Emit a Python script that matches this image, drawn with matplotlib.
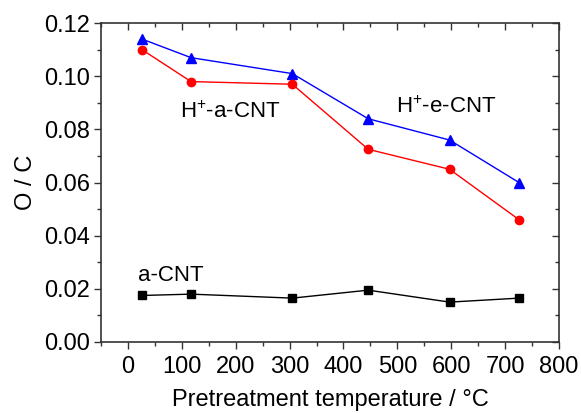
import matplotlib
matplotlib.use("Agg")
import matplotlib.pyplot as plt
import matplotlib.lines as mlines
from matplotlib.ticker import MultipleLocator

plt.rcParams['font.family'] = ['Liberation Sans', 'DejaVu Sans']
plt.rcParams['mathtext.fontset'] = 'custom'
plt.rcParams['mathtext.rm'] = 'Liberation Sans'
plt.rcParams['mathtext.it'] = 'Liberation Sans'

temperature = [26, 117, 305, 446, 597, 726]
h_e_cnt = [0.114, 0.107, 0.101, 0.084, 0.076, 0.060]
h_a_cnt = [0.110, 0.098, 0.097, 0.0725, 0.065, 0.046]
a_cnt = [0.0175, 0.018, 0.0165, 0.0195, 0.015, 0.0165]

fig = plt.figure(figsize=(5.81, 4.13), dpi=100)
ax = fig.add_axes([0.174, 0.172, 0.788, 0.772])

ax.plot(temperature, h_e_cnt, color='blue', marker='^', ms=7.5, lw=1)
ax.plot(temperature, h_a_cnt, color='red', marker='o', ms=6, lw=1)
ax.plot(temperature, a_cnt, color='black', marker='s', ms=5.5, lw=1)

ax.set_xlim(-50, 800)
ax.set_ylim(0, 0.12)
ax.xaxis.set_minor_locator(MultipleLocator(50))
ax.yaxis.set_minor_locator(MultipleLocator(0.01))
ax.set_yticks([0, 0.02, 0.04, 0.06, 0.08, 0.10, 0.12])
ax.set_yticklabels(['0.00', '0.02', '0.04', '0.06', '0.08', '0.10', '0.12'])
ax.set_xticks([0, 100, 200, 300, 400, 500, 600, 700, 800])

for s in ax.spines.values():
    s.set_color('#333333')
    s.set_linewidth(1.2)
ax.tick_params(axis='both', which='both', direction='out', colors='#333333', labelcolor='black', labelsize=17)
ax.tick_params(which='major', length=5, width=1)
ax.tick_params(which='minor', length=3, width=1)
ax.tick_params(axis='x', which='both', top=True, labeltop=False)
ax.tick_params(axis='y', which='both', right=True, labelright=False)
ax.tick_params(axis='x', which='major', pad=5)
ax.tick_params(axis='y', which='major', pad=3)
for t in ax.xaxis.get_major_ticks() + ax.xaxis.get_minor_ticks():
    t.tick2line.set_marker(mlines.TICKDOWN)
for t in ax.yaxis.get_major_ticks() + ax.yaxis.get_minor_ticks():
    t.tick2line.set_marker(mlines.TICKLEFT)

ax.set_xlabel('Pretreatment temperature / °C', fontsize=17, labelpad=8)
ax.set_ylabel('O / C', fontsize=17, labelpad=5)

ax.text(190, 0.0843, r'H$^{\mathregular{+}}$-a-CNT', fontsize=16, ha='center', va='baseline')
ax.text(590, 0.0861, r'H$^{\mathregular{+}}$-e-CNT', fontsize=16, ha='center', va='baseline')
ax.text(80, 0.0229, 'a-CNT', fontsize=16, ha='center', va='baseline')

fig.savefig('out.png', dpi=100)
